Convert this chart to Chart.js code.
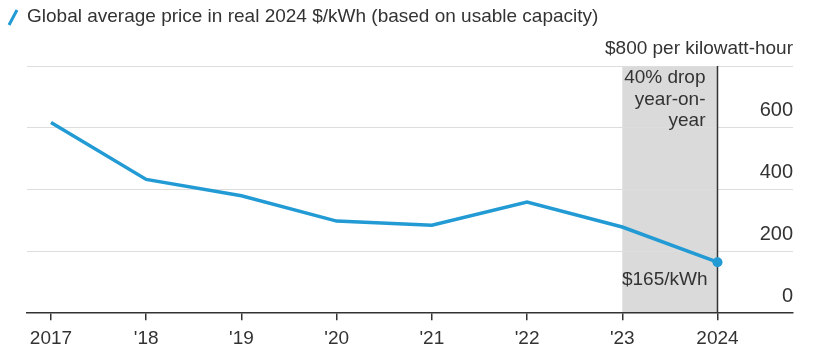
<!DOCTYPE html>
<html>
<head>
<meta charset="utf-8">
<script src="https://cdn.jsdelivr.net/npm/chart.js@4"></script>
<style>
  html, body { margin: 0; background: #fff; }
  #wrap { width: 815px; height: 348px; }
</style>
</head>
<body>
<div id="wrap"><canvas id="myChart"></canvas></div>
<script>
// data
const years = [2017, 2018, 2019, 2020, 2021, 2022, 2023, 2024];
const yearLabels = ['2017', "'18", "'19", "'20", "'21", "'22", "'23", '2024'];
const prices = [617, 433, 380, 298, 285, 360, 279, 165];
const yTicks = [0, 200, 400, 600, 800];
const yTickLabels = ['0', '200', '400', '600', '$800 per kilowatt-hour'];
const seriesLabel = 'Global average price in real 2024 $/kWh (based on usable capacity)';
const dropYears = [2023, 2024];
const dropNote = ['40% drop', 'year-on-', 'year'];
const endNote = '$165/kWh';

const blue = '#229ad4';
const ink = '#333333';
const fontFamily = "'Liberation Sans', Arial, sans-serif";

// grey band, marker line and notes
const dropBand = {
    id: 'dropBand',
    beforeDraw(chart) {
        const { ctx, scales: { x, y } } = chart;
        const x0 = x.getPixelForValue(dropYears[0]);
        const x1 = x.getPixelForValue(dropYears[1]);
        const top = y.getPixelForValue(yTicks[yTicks.length - 1]);
        const bot = y.getPixelForValue(0);
        ctx.save();
        ctx.fillStyle = '#dadada';
        ctx.fillRect(x0, top, x1 - x0, bot - top);
        ctx.restore();
    },
    beforeDatasetsDraw(chart) {
        const { ctx, scales: { x, y } } = chart;
        const x1 = x.getPixelForValue(dropYears[1]);
        const top = y.getPixelForValue(yTicks[yTicks.length - 1]);
        const bot = y.getPixelForValue(0);
        ctx.save();
        ctx.strokeStyle = ink;
        ctx.lineWidth = 1.5;
        ctx.beginPath();
        ctx.moveTo(x1, top);
        ctx.lineTo(x1, bot);
        ctx.stroke();
        ctx.restore();
    },
    afterDatasetsDraw(chart) {
        const { ctx, scales: { x, y } } = chart;
        const x1 = x.getPixelForValue(dropYears[1]);
        const top = y.getPixelForValue(yTicks[yTicks.length - 1]);
        const bot = y.getPixelForValue(0);
        ctx.save();
        ctx.fillStyle = ink;
        ctx.font = '19px ' + fontFamily;
        ctx.textAlign = 'right';
        ctx.textBaseline = 'middle';
        dropNote.forEach((line, i) => ctx.fillText(line, x1 - 12, top + 12 + i * 21.5));
        ctx.fillText(endNote, x1 - 10, bot - 33);
        ctx.restore();
    }
};

// legend line at the top
const keyLine = {
    id: 'keyLine',
    afterDraw(chart) {
        const ctx = chart.ctx;
        ctx.save();
        ctx.strokeStyle = blue;
        ctx.lineWidth = 3;
        ctx.beginPath();
        ctx.moveTo(9, 25);
        ctx.lineTo(17, 10);
        ctx.stroke();
        ctx.fillStyle = ink;
        ctx.font = '19px ' + fontFamily;
        ctx.textBaseline = 'middle';
        ctx.fillText(seriesLabel, 27, 17);
        ctx.restore();
    }
};

const ctx = document.getElementById('myChart').getContext('2d');
const myChart = new Chart(ctx, {
    type: 'line',
    data: {
        datasets: [{
            label: seriesLabel,
            data: years.map((yr, i) => ({ x: yr, y: prices[i] })),
            borderColor: blue,
            backgroundColor: blue,
            borderWidth: 3.5,
            tension: 0,
            pointRadius: prices.map((_, i) => i === prices.length - 1 ? 5 : 0),
            pointBorderWidth: 0,
            pointBackgroundColor: blue,
            clip: false
        }]
    },
    options: {
        responsive: true,
        maintainAspectRatio: false,
        animation: false,
        layout: { padding: { top: 66, left: 27, right: 22, bottom: -9 } },
        plugins: {
            legend: { display: false },
            tooltip: { enabled: false }
        },
        scales: {
            x: {
                type: 'linear',
                min: 2016.748,
                max: 2024.793,
                afterBuildTicks: (scale) => { scale.ticks = years.map(v => ({ value: v })); },
                grid: { drawOnChartArea: false, drawTicks: true, tickLength: 7, color: ink, lineWidth: 1.5 },
                border: { color: ink, width: 1.5 },
                ticks: {
                    autoSkip: false,
                    maxRotation: 0,
                    padding: 7,
                    color: ink,
                    font: { family: fontFamily, size: 19 },
                    callback: (v) => yearLabels[years.indexOf(v)]
                }
            },
            y: {
                position: 'right',
                min: 0,
                max: 800,
                afterBuildTicks: (scale) => { scale.ticks = yTicks.map(v => ({ value: v })); },
                grid: {
                    drawTicks: false,
                    color: (c) => c.tick && c.tick.value === 0 ? 'rgba(0,0,0,0)' : '#dddddd',
                    lineWidth: 1
                },
                border: { display: false },
                ticks: {
                    mirror: true,
                    padding: 0,
                    labelOffset: -17,
                    color: ink,
                    font: (c) => ({ family: fontFamily, size: c.tick && c.tick.value === 800 ? 19 : 20 }),
                    callback: (v) => yTickLabels[yTicks.indexOf(v)]
                }
            }
        }
    },
    plugins: [dropBand, keyLine]
});
</script>
</body>
</html>
